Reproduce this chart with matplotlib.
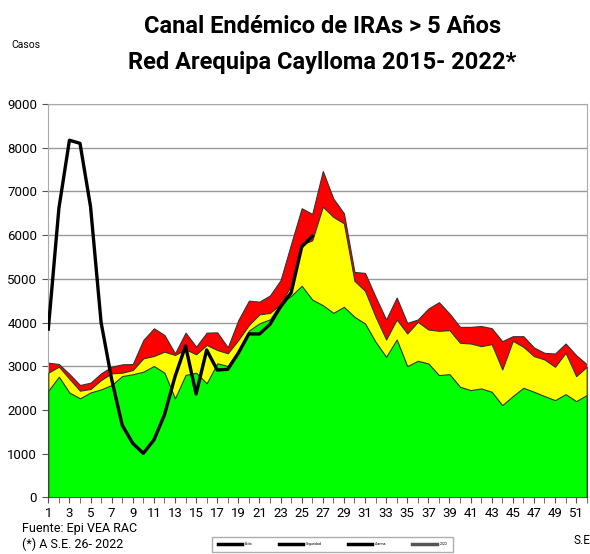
import matplotlib.pyplot as plt
import numpy as np
from matplotlib.lines import Line2D

plt.rcParams['font.family'] = ['Roboto', 'DejaVu Sans']
plt.rcParams['font.stretch'] = 'condensed'

# semanas epidemiologicas
weeks = np.arange(1, 53)

# limite inferior (zona de exito)
lower = [2440, 2760, 2395, 2265, 2400, 2470, 2570, 2775, 2815, 2875,
         3005, 2850, 2265, 2800, 2850, 2610, 3066, 3005, 3356, 3814,
         3981, 4073, 4439, 4610, 4840, 4525, 4396, 4221, 4358, 4130,
         3977, 3558, 3215, 3611, 3002, 3124, 3063, 2796, 2819, 2529,
         2453, 2491, 2415, 2110, 2316, 2506, 2415, 2316, 2224, 2361,
         2201, 2339]

# mediana (zona de seguridad)
median = [2852, 2990, 2710, 2440, 2480, 2685, 2837, 2852, 2913, 3180,
          3234, 3333, 3257, 3386, 3272, 3486, 3371, 3295, 3600, 3943,
          4187, 4220, 4420, 4853, 5785, 5880, 6650, 6415, 6270, 4952,
          4724, 4130, 3611, 4069, 3749, 4016, 3840, 3810, 3825, 3536,
          3520, 3459, 3505, 2926, 3581, 3444, 3231, 3155, 2987, 3307,
          2773, 2987]

# limite superior (zona de alarma)
upper = [3081, 3050, 2822, 2570, 2624, 2837, 2990, 3043, 3050, 3600,
         3867, 3714, 3295, 3768, 3447, 3768, 3775, 3432, 4057, 4500,
         4477, 4620, 4970, 5800, 6615, 6485, 7466, 6836, 6500, 5157,
         5135, 4586, 4069, 4572, 3991, 4069, 4320, 4465, 4206, 3900,
         3900, 3920, 3870, 3573, 3687, 3687, 3429, 3306, 3290, 3520,
         3253, 3047]

# casos 2022 hasta la S.E. 26
weeks_2022 = np.arange(1, 27)
cases_2022 = [3850, 6610, 8170, 8100, 6650, 4000, 2700, 1650, 1235, 1007,
              1312, 1884, 2761, 3463, 2364, 3371, 2913, 2929, 3300, 3740,
              3737, 3960, 4360, 4680, 5730, 5975]

fig = plt.figure(figsize=(5.9, 5.54), dpi=100)
ax = fig.add_axes([0.0819, 0.1023, 0.9125, 0.71])

edge = '#333333'
ax.fill_between(weeks, upper, 0, color='#FF0000', edgecolor=edge, linewidth=0.8, zorder=2)
ax.fill_between(weeks, median, 0, color='#FFFF00', edgecolor=edge, linewidth=0.8, zorder=3)
ax.fill_between(weeks, lower, 0, color='#00FF00', edgecolor=edge, linewidth=0.8, zorder=4)
ax.plot(weeks_2022, cases_2022, color='black', linewidth=2.4, zorder=5)

ax.set_xlim(1, 52)
ax.set_ylim(0, 9000)
ax.set_yticks(np.arange(0, 9001, 1000))
ax.set_xticks(np.arange(1, 53, 2))
ax.set_xticks(weeks, minor=True)
ax.tick_params(axis='both', labelsize=9.5, colors='black', length=4, direction='out')
ax.tick_params(axis='x', which='both', length=4, color='#555555', pad=3)
ax.tick_params(axis='y', color='#555555', pad=4)
ax.grid(axis='y', color='#999999', linewidth=1.0, zorder=1)
ax.set_axisbelow(True)
for s in ['left', 'right', 'top']:
    ax.spines[s].set_color('#AAAAAA')
ax.spines['bottom'].set_color('#555555')

fig.text(0.546, 0.953, 'Canal Endémico de IRAs > 5 Años', ha='center', va='center',
         fontsize=17, fontweight='bold')
fig.text(0.546, 0.888, 'Red Arequipa Caylloma 2015- 2022*', ha='center', va='center',
         fontsize=17, fontweight='bold')
fig.text(0.02, 0.918, 'Casos', ha='left', va='center', fontsize=7.5)
fig.text(0.037, 0.046, 'Fuente: Epi VEA RAC', ha='left', va='center', fontsize=9)
fig.text(0.037, 0.018, '(*) A S.E. 26- 2022', ha='left', va='center', fontsize=9)
fig.text(0.972, 0.025, 'S.E', ha='left', va='center', fontsize=8.5)

handles = [Line2D([], [], color='black', linewidth=2.5),
           Line2D([], [], color='black', linewidth=2.5),
           Line2D([], [], color='black', linewidth=2.5),
           Line2D([], [], color='#555555', linewidth=2.5)]
labels = ['Éxito', 'Seguridad', 'Alarma', '2022']
leg = fig.legend(handles, labels, loc='upper left', bbox_to_anchor=(0.357, 0.034),
                 ncol=4, fontsize=2.5, frameon=True, fancybox=False,
                 handlelength=7, handletextpad=0.8, columnspacing=7.5, borderpad=1.6)
leg.get_frame().set_edgecolor('#999999')
leg.get_frame().set_linewidth(1.0)

fig.savefig('out.png', dpi=100)
